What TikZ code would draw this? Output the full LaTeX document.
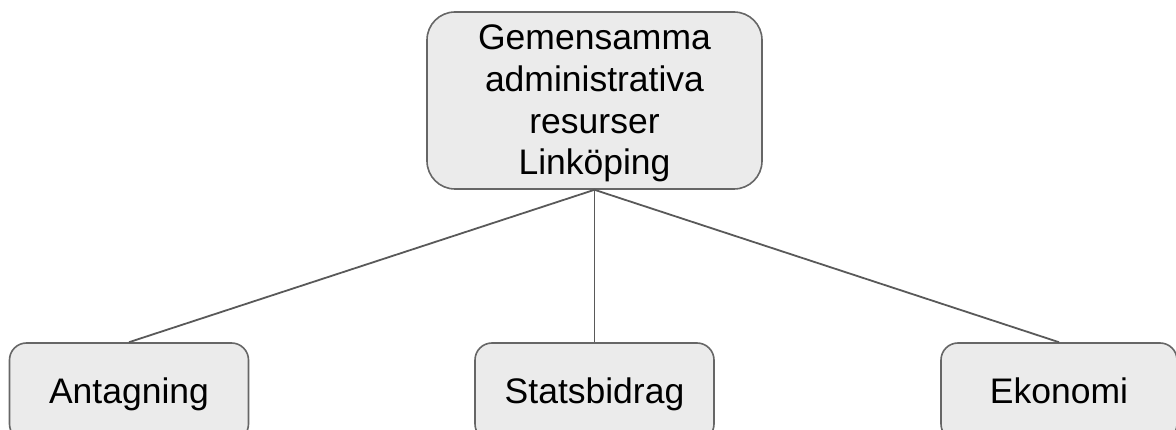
\documentclass[tikz,border=0pt]{standalone}
\usepackage{fontspec}
\setmainfont{Liberation Sans}
\begin{document}
\begin{tikzpicture}[x=1pt,y=-1pt,
  boxstyle/.style={draw=black!60, fill=black!8, line width=1.6pt, inner sep=0pt, align=center,
     font=\fontsize{35.5}{41.7}\selectfont},
  topbox/.style={boxstyle, rounded corners=28pt, minimum width=335pt, minimum height=177pt},
  leafbox/.style={boxstyle, rounded corners=17pt, minimum width=239pt, minimum height=98pt,
     text height=27pt, text depth=5pt},
  link/.style={draw=black!65, line width=1.8pt}]
\useasboundingbox (0,0) rectangle (1176,430);
\begin{scope}
\clip (0,0) rectangle (1176,430);
\node[topbox] (top) at (594.5,100.5) {};
\node[align=center, inner sep=0pt, font=\fontsize{35.5}{41.7}\selectfont] (toptext) at (594.5,103.5) {Gemensamma\\administrativa\\resurser\\Linköping};
\node[leafbox] (a) at (129,392) {Antagning};
\node[leafbox] (s) at (594.5,392) {Statsbidrag};
\node[leafbox, minimum width=236pt] (e) at (1059,392) {Ekonomi};
\draw[link] (top.south) -- (a.north);
\draw[link] (top.south) -- (s.north);
\draw[link] (top.south) -- (e.north);
\end{scope}
\end{tikzpicture}
\end{document}
